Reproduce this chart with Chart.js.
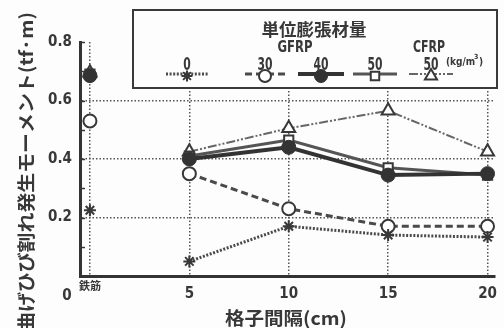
<!DOCTYPE html>
<html>
<head>
<meta charset="utf-8">
<script src="https://cdn.jsdelivr.net/npm/chart.js@4/dist/chart.umd.min.js"></script>
<style>
  html, body { margin: 0; padding: 0; background: #fdfdfd; }
  #wrap { width: 504px; height: 328px; }
</style>
</head>
<body>
<div id="wrap"><canvas id="c" width="504" height="328"></canvas></div>
<script>
// Grid spacing (cm); 0 stands for the plain reinforcing-bar specimen (鉄筋)
const spacings = [0, 5, 10, 15, 20];
const xTickLabels = ['鉄筋', '5', '10', '15', '20'];
const yTicks = [0.2, 0.4, 0.6, 0.8];
const yMinorTicks = [0.1, 0.3, 0.5, 0.7];

// Flexural cracking moment (tf·m) per expansive-agent content
const gfrp0  = [0.225, 0.05, 0.17, 0.14, 0.133];
const gfrp30 = [0.53, 0.35, 0.23, 0.17, 0.17];
const gfrp40 = [0.685, 0.40, 0.44, 0.345, 0.35];
const gfrp50 = [0.69, 0.41, 0.465, 0.37, 0.345];
const cfrp50 = [0.695, 0.425, 0.505, 0.565, 0.425];

const ink = '#383838';
const gridInk = '#555555';
const numFont = '"Liberation Sans Narrow", "DejaVu Sans Condensed", "Liberation Sans", Arial, sans-serif';
const jpFont = '"Noto Sans CJK JP", "Noto Sans CJK SC", sans-serif';

// The bar specimen stands alone; a null point breaks the line before the grid series.
function toPoints(values) {
  const pts = [];
  spacings.forEach((x, i) => {
    pts.push({ x, y: values[i] });
    if (i === 0) pts.push({ x: 2.5, y: null });
  });
  return pts;
}

const datasets = [
  { label: '0', group: 'GFRP', data: toPoints(gfrp0),
    borderColor: '#4a4a4a', borderWidth: 3, borderDash: [2, 1.6],
    pointStyle: 'star', pointRadius: 6, pointBorderWidth: 2,
    pointBorderColor: ink, pointBackgroundColor: ink },
  { label: '30', group: 'GFRP', data: toPoints(gfrp30),
    borderColor: '#4a4a4a', borderWidth: 3, borderDash: [7, 4],
    pointStyle: 'circle', pointRadius: 6.5, pointBorderWidth: 2,
    pointBorderColor: ink, pointBackgroundColor: '#ffffff' },
  { label: '40', group: 'GFRP', data: toPoints(gfrp40),
    borderColor: '#333333', borderWidth: 4,
    pointStyle: 'circle', pointRadius: 7, pointBorderWidth: 1,
    pointBorderColor: '#333333', pointBackgroundColor: '#333333' },
  { label: '50', group: 'GFRP', data: toPoints(gfrp50),
    borderColor: '#555555', borderWidth: 3,
    pointStyle: 'rect', pointRadius: 6.5, pointBorderWidth: 2,
    pointBorderColor: ink, pointBackgroundColor: '#ffffff' },
  { label: '50', group: 'CFRP', data: toPoints(cfrp50),
    borderColor: '#666666', borderWidth: 2, borderDash: [9, 2, 2, 2, 2, 2],
    pointStyle: 'triangle', pointRadius: 7.5, pointBorderWidth: 2,
    pointBorderColor: ink, pointBackgroundColor: '#ffffff' }
];
datasets.forEach(d => { d.fill = false; d.tension = 0; d.spanGaps = false; d.clip = false; });

// Draws text squeezed or stretched to a given width
function fitText(ctx, text, cx, cy, width) {
  const w = ctx.measureText(text).width;
  ctx.save();
  ctx.translate(cx, cy);
  ctx.scale(width / w, 1);
  ctx.fillText(text, 0, 0);
  ctx.restore();
}

// Axis captions, origin mark, inner ticks and the boxed key
const decorations = {
  id: 'decorations',
  afterDraw(chart) {
    const { ctx, scales: { x, y } } = chart;
    const left = chart.chartArea.left;
    ctx.save();

    // short inward ticks on the value axis
    ctx.strokeStyle = ink;
    ctx.lineWidth = 1.5;
    yMinorTicks.concat(yTicks).forEach(v => {
      const py = Math.round(y.getPixelForValue(v)) + 0.5;
      ctx.beginPath();
      ctx.moveTo(left, py);
      ctx.lineTo(left + 5, py);
      ctx.stroke();
    });

    // origin "0" and the 鉄筋 category label
    ctx.fillStyle = ink;
    ctx.textAlign = 'center';
    ctx.textBaseline = 'middle';
    ctx.font = 'bold 15px ' + numFont;
    ctx.fillText('0', 67, 296);
    ctx.font = 'bold 11px ' + jpFont;
    ctx.fillText(xTickLabels[0], x.getPixelForValue(spacings[0]), 286);

    // x-axis title
    ctx.font = 'bold 18px ' + jpFont;
    fitText(ctx, '格子間隔(cm)', 286, 318, 122);

    // y-axis title, read bottom to top
    ctx.save();
    ctx.translate(26, 172);
    ctx.rotate(-Math.PI / 2);
    ctx.font = 'bold 18px ' + jpFont;
    fitText(ctx, '曲げひび割れ発生モーメント(tf·m)', 0, 0, 320);
    ctx.restore();

    // key box
    const bx = 133, by = 10, bw = 364, bh = 78;
    ctx.fillStyle = '#fdfdfd';
    ctx.fillRect(bx, by, bw, bh);
    ctx.strokeStyle = '#3a3a3a';
    ctx.lineWidth = 2;
    ctx.strokeRect(bx, by, bw, bh);

    ctx.fillStyle = ink;
    ctx.font = 'bold 17px ' + jpFont;
    fitText(ctx, '単位膨張材量', 314, 30, 105);
    ctx.font = 'bold 15px ' + numFont;
    fitText(ctx, 'GFRP', 295, 48, 35);
    fitText(ctx, 'CFRP', 429, 48, 32);
    ctx.font = 'bold 10px ' + numFont;
    ctx.textAlign = 'left';
    ctx.fillText('(kg/m', 446, 62);
    ctx.font = 'bold 7px ' + numFont;
    ctx.fillText('3', 474, 57);
    ctx.font = 'bold 10px ' + numFont;
    ctx.fillText(')', 479, 62);
    ctx.textAlign = 'center';

    const keyCenters = [187, 265, 321, 375, 431];
    const keyHalf = [21, 20, 23, 22, 22];
    datasets.forEach((d, i) => {
      const cx = keyCenters[i];
      ctx.save();
      ctx.strokeStyle = d.borderColor;
      ctx.lineWidth = d.borderWidth;
      ctx.setLineDash(d.borderDash || []);
      ctx.beginPath();
      ctx.moveTo(cx - keyHalf[i], 74);
      ctx.lineTo(cx + keyHalf[i], 74);
      ctx.stroke();
      ctx.restore();

      ctx.save();
      ctx.fillStyle = d.pointBackgroundColor;
      ctx.strokeStyle = d.pointBorderColor;
      ctx.lineWidth = d.pointBorderWidth;
      Chart.helpers.drawPoint(ctx, {
        pointStyle: d.pointStyle, radius: d.pointRadius - 0.5,
        rotation: 0, borderWidth: d.pointBorderWidth
      }, cx, 76);
      ctx.restore();

      ctx.fillStyle = ink;
      ctx.font = 'bold 18px ' + numFont;
      fitText(ctx, d.label, cx, 65, d.label.length * 7.5);
    });

    ctx.restore();
  }
};

new Chart(document.getElementById('c'), {
  type: 'line',
  data: { datasets },
  options: {
    responsive: false,
    animation: false,
    events: [],
    layout: { padding: { top: 42, left: 0, right: 0, bottom: 0 } },
    plugins: { legend: { display: false }, tooltip: { enabled: false } },
    scales: {
      x: {
        type: 'linear',
        min: -0.5,
        max: 20.35,
        afterBuildTicks: s => { s.ticks = spacings.map(v => ({ value: v })); },
        afterFit: s => { s.height = 52; s.paddingLeft = 0; s.paddingRight = 0; },
        ticks: {
          autoSkip: false, maxRotation: 0, padding: 9, color: ink,
          font: { family: numFont, size: 15, weight: 'bold' },
          callback: v => (v === spacings[0] ? '' : xTickLabels[spacings.indexOf(v)])
        },
        grid: { color: gridInk, lineWidth: 1.5, drawTicks: false },
        border: { display: true, color: '#333333', width: 3, dash: [1.5, 2] }
      },
      y: {
        min: 0,
        max: 0.8,
        afterBuildTicks: s => { s.ticks = yTicks.map(v => ({ value: v })); },
        afterFit: s => { s.width = 80; s.paddingTop = 0; s.paddingBottom = 0; },
        ticks: {
          padding: 8, color: ink,
          font: { family: numFont, size: 15, weight: 'bold' },
          callback: v => v.toFixed(1)
        },
        grid: {
          color: c => (c.tick && c.tick.value >= 0.8 ? 'rgba(0,0,0,0)' : gridInk),
          lineWidth: 1.5, drawTicks: false
        },
        border: { display: true, color: '#333333', width: 3, dash: [1.5, 2] }
      }
    }
  },
  plugins: [decorations]
});
</script>
</body>
</html>
